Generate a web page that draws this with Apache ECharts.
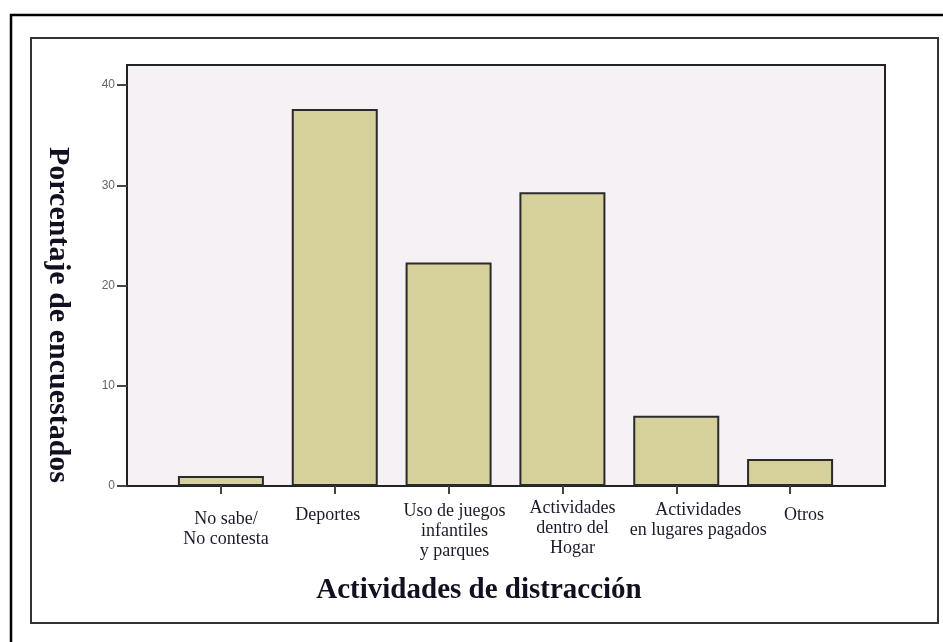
<!DOCTYPE html>
<html>
<head>
<meta charset="utf-8">
<script src="https://cdn.jsdelivr.net/npm/echarts@6/dist/echarts.min.js"></script>
<style>
html,body{margin:0;padding:0;background:#fff;}
#chart{width:943px;height:642px;}
</style>
</head>
<body>
<div id="chart"></div>
<script>
// Data
const categories = [
  'No sabe/\nNo contesta',
  'Deportes',
  'Uso de juegos\ninfantiles\ny parques',
  'Actividades\ndentro del\nHogar',
  'Actividades\nen lugares pagados',
  'Otros'
];
const values = [1.0, 37.6, 22.3, 29.3, 7.0, 2.7];
const yTicks = [0, 10, 20, 30, 40];
const yAxisTitle = 'Porcentaje de encuestados';
const xAxisTitle = 'Actividades de distracción';

// per-label nudges (layout only)
const labelPad = [[11,0,0,10],[7,14,0,0],[3,0,0,12],[0,0,0,20],[2,0,0,44],[7,0,0,28]];

const chart = echarts.init(document.getElementById('chart'));
const serif = '"Liberation Serif", "Times New Roman", serif';

const option = {
  backgroundColor: '#ffffff',
  animation: false,
  grid: [
    {left: 127, right: 58, top: 65, bottom: 156, show: true,
     backgroundColor: '#f6f1f5', borderColor: '#222', borderWidth: 2},
    {left: 164, right: 96, top: 65, bottom: 156}
  ],
  xAxis: [
    {type: 'value', gridIndex: 0, show: false, min: 0, max: 1},
    {type: 'category', gridIndex: 1,
     data: categories.map((c, i) => ({value: c, textStyle: {padding: labelPad[i]}})),
     axisLine: {show: false},
     axisTick: {show: true, alignWithLabel: true, length: 8, inside: false,
                lineStyle: {color: '#444', width: 2}},
     axisLabel: {interval: 0, margin: 12, fontFamily: serif, fontSize: 18,
                 color: '#1a1a2a', lineHeight: 20, align: 'center'},
     splitLine: {show: false}}
  ],
  yAxis: [
    {type: 'value', gridIndex: 0, min: 0, max: 42,
     axisLine: {show: false},
     axisTick: {show: true, length: 10, customValues: yTicks,
                lineStyle: {color: '#444', width: 2}},
     axisLabel: {margin: 12, customValues: yTicks,
                 fontFamily: 'Arial, "Liberation Sans", sans-serif',
                 fontSize: 12, color: '#666'},
     splitLine: {show: false}},
    {type: 'value', gridIndex: 1, min: 0, max: 42, show: false}
  ],
  series: [{
    type: 'bar',
    xAxisIndex: 1, yAxisIndex: 1,
    data: values,
    barWidth: 86,
    itemStyle: {color: '#d6d09a', borderColor: '#2a2a2a', borderWidth: 2}
  }],
  graphic: [
    {type: 'rect', shape: {x: 11, y: 15, width: 960, height: 660},
     style: {fill: 'none', stroke: '#000', lineWidth: 2.5}, silent: true},
    {type: 'rect', shape: {x: 31, y: 38, width: 907, height: 585},
     style: {fill: 'none', stroke: '#333', lineWidth: 2}, silent: true},
    {type: 'text', x: 58, y: 315, rotation: -Math.PI / 2,
     style: {text: yAxisTitle, font: 'bold 30px ' + serif, fill: '#101020',
             textAlign: 'center', textVerticalAlign: 'middle'}},
    {type: 'text', x: 479, y: 591,
     style: {text: xAxisTitle, font: 'bold 29px ' + serif, fill: '#101020',
             textAlign: 'center', textVerticalAlign: 'middle'}}
  ]
};
chart.setOption(option);
</script>
</body>
</html>
